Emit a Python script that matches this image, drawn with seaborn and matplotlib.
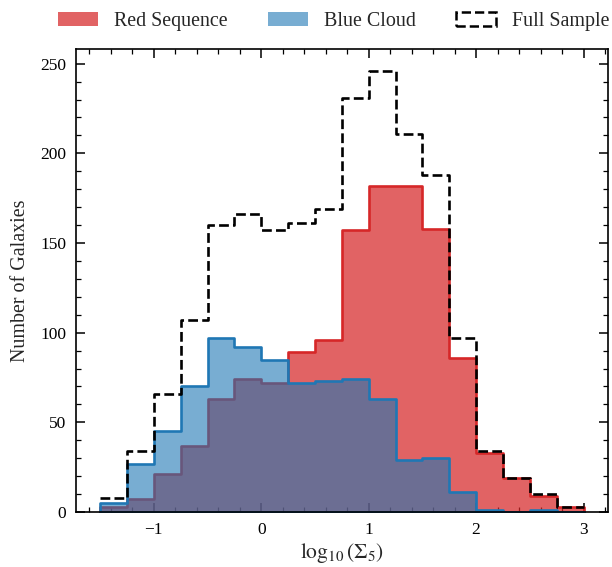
import matplotlib
matplotlib.use("Agg")
import matplotlib.pyplot as plt
from matplotlib.patches import Patch
from matplotlib.ticker import MultipleLocator
import numpy as np
import pandas as pd
import seaborn as sns

# histogram bins of log10(Sigma_5)
bin_edges = [-1.5, -1.25, -1.0, -0.75, -0.5, -0.25, 0.0, 0.25, 0.5,
             0.75, 1.0, 1.25, 1.5, 1.75, 2.0, 2.25, 2.5, 2.75, 3.0]

# counts per bin
red_counts = [3, 7, 21, 37, 63, 74, 72, 89, 96, 157, 182, 182, 158, 86, 33, 19, 9, 3]
blue_counts = [5, 27, 45, 70, 97, 92, 85, 72, 73, 74, 63, 29, 30, 11, 1, 0, 1, 0]
full_counts = [8, 34, 66, 107, 160, 166, 157, 161, 169, 231, 246, 211, 188, 97, 34, 19, 10, 3]

labels = ["Red Sequence", "Blue Cloud", "Full Sample"]
red = "#d62728"
blue = "#1f77b4"

sns.set_style("ticks")
plt.rcParams["font.family"] = ["Liberation Serif", "DejaVu Serif"]
plt.rcParams["mathtext.fontset"] = "stix"
plt.rcParams["axes.linewidth"] = 1.2
for ax_name in ("xtick", "ytick"):
    plt.rcParams[f"{ax_name}.direction"] = "in"
    plt.rcParams[f"{ax_name}.major.size"] = 6.5
    plt.rcParams[f"{ax_name}.minor.size"] = 3.5
    plt.rcParams[f"{ax_name}.major.width"] = 1.1
    plt.rcParams[f"{ax_name}.minor.width"] = 0.9
    plt.rcParams[f"{ax_name}.major.pad"] = 7
    plt.rcParams[f"{ax_name}.labelsize"] = 12.5
    plt.rcParams[f"{ax_name}.color"] = "black"

edges = np.array(bin_edges)
df = pd.DataFrame({
    "x": (edges[:-1] + edges[1:]) / 2,
    "red": red_counts,
    "blue": blue_counts,
    "full": full_counts,
})

fig, ax = plt.subplots(figsize=(6.12, 5.67), dpi=100)
fig.subplots_adjust(left=0.124, right=0.993, top=0.914, bottom=0.097)

sns.histplot(data=df, x="x", weights="red", bins=bin_edges, element="step",
             fill=True, color=red, alpha=0.72, linewidth=1.9, ax=ax)
sns.histplot(data=df, x="x", weights="blue", bins=bin_edges, element="step",
             fill=True, color=blue, alpha=0.6, linewidth=1.9, ax=ax)
sns.histplot(data=df, x="x", weights="full", bins=bin_edges, element="step",
             fill=False, color="black", linewidth=1.9, linestyle="--", ax=ax)

ax.set_xlabel(r"$\log_{10}(\Sigma_5)$", fontsize=15.5, labelpad=2)
ax.set_ylabel("Number of Galaxies", fontsize=14.4, labelpad=7)

ax.xaxis.set_major_locator(MultipleLocator(1))
ax.xaxis.set_minor_locator(MultipleLocator(0.2))
ax.yaxis.set_major_locator(MultipleLocator(50))
ax.yaxis.set_minor_locator(MultipleLocator(10))
ax.tick_params(which="both", top=True, right=True)
for s in ax.spines.values():
    s.set_color("black")

handles = [
    Patch(facecolor=red, alpha=0.72, edgecolor="none"),
    Patch(facecolor=blue, alpha=0.6, edgecolor="none"),
    Patch(facecolor="none", edgecolor="black", linestyle="--", linewidth=1.8),
]
ax.legend(handles, labels, loc="lower center", bbox_to_anchor=(0.485, 1.0),
          ncol=3, frameon=False, fontsize=14.4, columnspacing=2.0,
          handleheight=0.7)

fig.savefig("out.png", dpi=100)
